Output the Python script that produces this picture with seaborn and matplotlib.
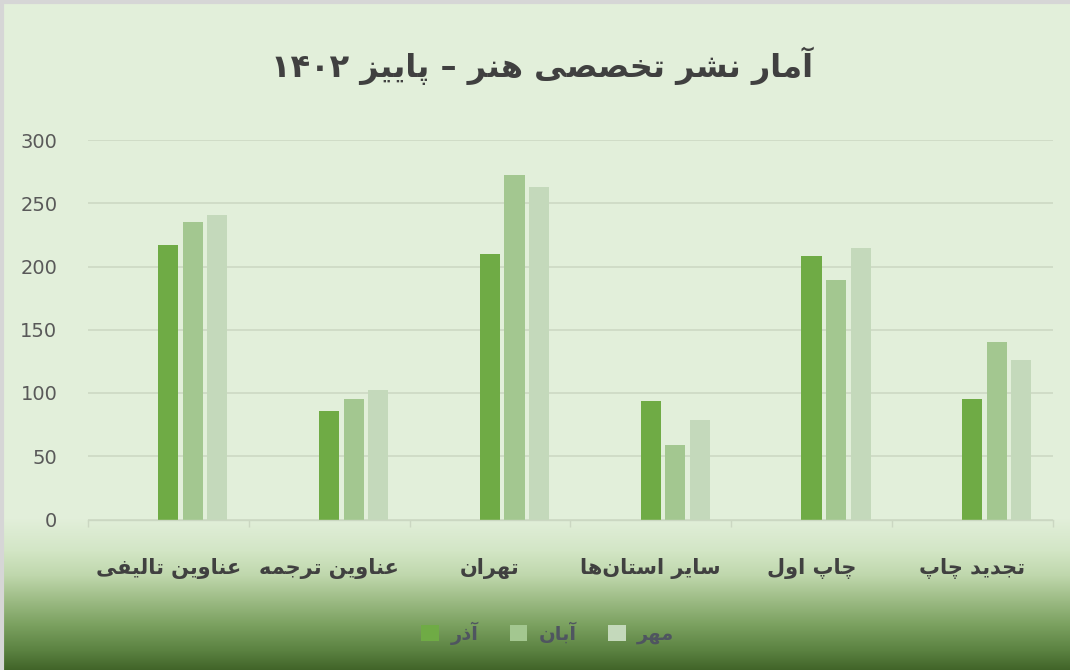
import re
import numpy as np
import pandas as pd
import seaborn as sns
import matplotlib.pyplot as plt
from matplotlib.patches import Patch
from matplotlib.ticker import FixedLocator

title = 'آمار نشر تخصصی هنر – پاییز ۱۴۰۲'
categories = ['عناوین تالیفی', 'عناوین ترجمه', 'تهران', 'سایر استان‌ها', 'چاپ اول', 'تجدید چاپ']
months = ['آذر', 'آبان', 'مهر']
azar = [217, 86, 210, 94, 208, 95]
aban = [235, 95, 272, 59, 189, 140]
mehr = [241, 102, 263, 79, 215, 126]
yticks = [0, 50, 100, 150, 200, 250, 300]

colors = ['#6fab45', '#a3c790', '#c4d9bb']

# matplotlib has no arabic shaping, so pick the contextual forms by hand
# (isolated, final, initial, medial); None = letter does not join forward
FORMS = {
    'آ': ('\uFE81', '\uFE82', None, None),
    'ا': ('\uFE8D', '\uFE8E', None, None),
    'ب': ('\uFE8F', '\uFE90', '\uFE91', '\uFE92'),
    'پ': ('\uFB56', '\uFB57', '\uFB58', '\uFB59'),
    'ت': ('\uFE95', '\uFE96', '\uFE97', '\uFE98'),
    'ج': ('\uFE9D', '\uFE9E', '\uFE9F', '\uFEA0'),
    'چ': ('\uFB7A', '\uFB7B', '\uFB7C', '\uFB7D'),
    'خ': ('\uFEA5', '\uFEA6', '\uFEA7', '\uFEA8'),
    'د': ('\uFEA9', '\uFEAA', None, None),
    'ذ': ('\uFEAB', '\uFEAC', None, None),
    'ر': ('\uFEAD', '\uFEAE', None, None),
    'ز': ('\uFEAF', '\uFEB0', None, None),
    'س': ('\uFEB1', '\uFEB2', '\uFEB3', '\uFEB4'),
    'ش': ('\uFEB5', '\uFEB6', '\uFEB7', '\uFEB8'),
    'ص': ('\uFEB9', '\uFEBA', '\uFEBB', '\uFEBC'),
    'ع': ('\uFEC9', '\uFECA', '\uFECB', '\uFECC'),
    'ف': ('\uFED1', '\uFED2', '\uFED3', '\uFED4'),
    'ل': ('\uFEDD', '\uFEDE', '\uFEDF', '\uFEE0'),
    'م': ('\uFEE1', '\uFEE2', '\uFEE3', '\uFEE4'),
    'ن': ('\uFEE5', '\uFEE6', '\uFEE7', '\uFEE8'),
    'ه': ('\uFEE9', '\uFEEA', '\uFEEB', '\uFEEC'),
    'و': ('\uFEED', '\uFEEE', None, None),
    'ی': ('\uFBFC', '\uFBFD', '\uFBFE', '\uFBFF'),
}


def fa(text):
    out = []
    for i, c in enumerate(text):
        if c not in FORMS:
            out.append(c)
            continue
        prev = text[i - 1] if i > 0 else None
        nxt = text[i + 1] if i + 1 < len(text) else None
        jp = prev in FORMS and FORMS[prev][2] is not None
        jn = nxt in FORMS and FORMS[c][2] is not None
        iso, fin, ini, med = FORMS[c]
        if jp and jn:
            out.append(med)
        elif jp:
            out.append(fin)
        elif jn:
            out.append(ini)
        else:
            out.append(iso)
    s = ''.join(ch for ch in out if ch != '\u200c')[::-1]
    return re.sub(r'[0-9\u06F0-\u06F9]+', lambda m: m.group(0)[::-1], s)


plt.rcParams['font.family'] = ['DejaVu Sans']

df = pd.DataFrame({
    'category': categories * 3,
    'month': [m for m in months for _ in categories],
    'value': azar + aban + mehr,
})

W, H = 1070, 670
fig = plt.figure(figsize=(W / 100, H / 100), dpi=100)
fig.patch.set_facecolor('#e2efda')

# background: flat pale green, then gradient to dark green at the bottom
bg = fig.add_axes([0, 0, 1, 1], zorder=-10)
rows = np.arange(H)
stops_y = [0, 518, 550, 575, 600, 625, 650, 670]
stops_c = ['#e2efda', '#e2efda', '#d3e6c6', '#bfd7ac', '#9cbb84', '#7aa05f', '#5b8241', '#406328']
rgb = np.array([plt.matplotlib.colors.to_rgb(c) for c in stops_c])
grad = np.stack([np.interp(rows, stops_y, rgb[:, k]) for k in range(3)], axis=1)
bg.imshow(grad[:, None, :], aspect='auto', extent=[0, 1, 0, 1])
bg.axis('off')
bg.plot([0, 1], [0.997, 0.997], color='#d6d6d6', lw=3, transform=bg.transAxes)
bg.plot([0.0015, 0.0015], [0, 1], color='#d6d6d6', lw=3, transform=bg.transAxes)

ax = fig.add_axes([88 / W, (H - 519.5) / H, (1052.7 - 88) / W, (519.5 - 140) / H])
ax.set_facecolor('none')

# two empty leading hue slots push the three bars to the right, like the original
hue_order = ['_', '__'] + months
sns.barplot(data=df, x='category', y='value', hue='month', order=categories,
            hue_order=hue_order, palette=['#ffffff', '#ffffff'] + colors,
            width=0.7625, gap=0.18, errorbar=None, legend=False, saturation=1,
            edgecolor='none', linewidth=0, ax=ax)

ax.set_ylim(0, 300)
ax.set_xlim(-0.5, len(categories) - 0.5)
ax.set_yticks(yticks)
ax.set_yticklabels([str(v) for v in yticks], fontsize=14, color='#595959')
ax.set_xticks(range(len(categories)))
ax.set_xticklabels([fa(c) for c in categories], fontsize=15, fontweight='bold', color='#404040')
ax.xaxis.set_minor_locator(FixedLocator(np.arange(-0.5, len(categories), 1.0)))
ax.tick_params(axis='x', which='major', length=0, pad=28)
ax.tick_params(axis='x', which='minor', length=5, color='#cbd7c2', width=1)
ax.tick_params(axis='y', length=0, pad=22)
ax.set_xlabel('')
ax.set_ylabel('')
ax.grid(axis='y', color='#cfdbc6', linewidth=1.3)
ax.set_axisbelow(True)
for side in ['left', 'right', 'top']:
    ax.spines[side].set_visible(False)
ax.spines['bottom'].set_color('#cbd7c2')
ax.spines['bottom'].set_linewidth(1)

fig.text(542 / W, 1 - 66 / H, fa(title), ha='center', va='center',
         fontsize=23, fontweight='bold', color='#404040')

handles = [Patch(facecolor=c, edgecolor='none') for c in colors]
fig.legend(handles, [fa(m) for m in months], loc='center', ncol=3,
           bbox_to_anchor=(548 / W, 1 - 633 / H), frameon=False,
           handlelength=0.9, handleheight=0.9, handletextpad=0.6,
           columnspacing=1.6, prop={'size': 14, 'weight': 'bold'},
           labelcolor='#4f5560')

fig.savefig('out.png', dpi=100, facecolor=fig.get_facecolor())
